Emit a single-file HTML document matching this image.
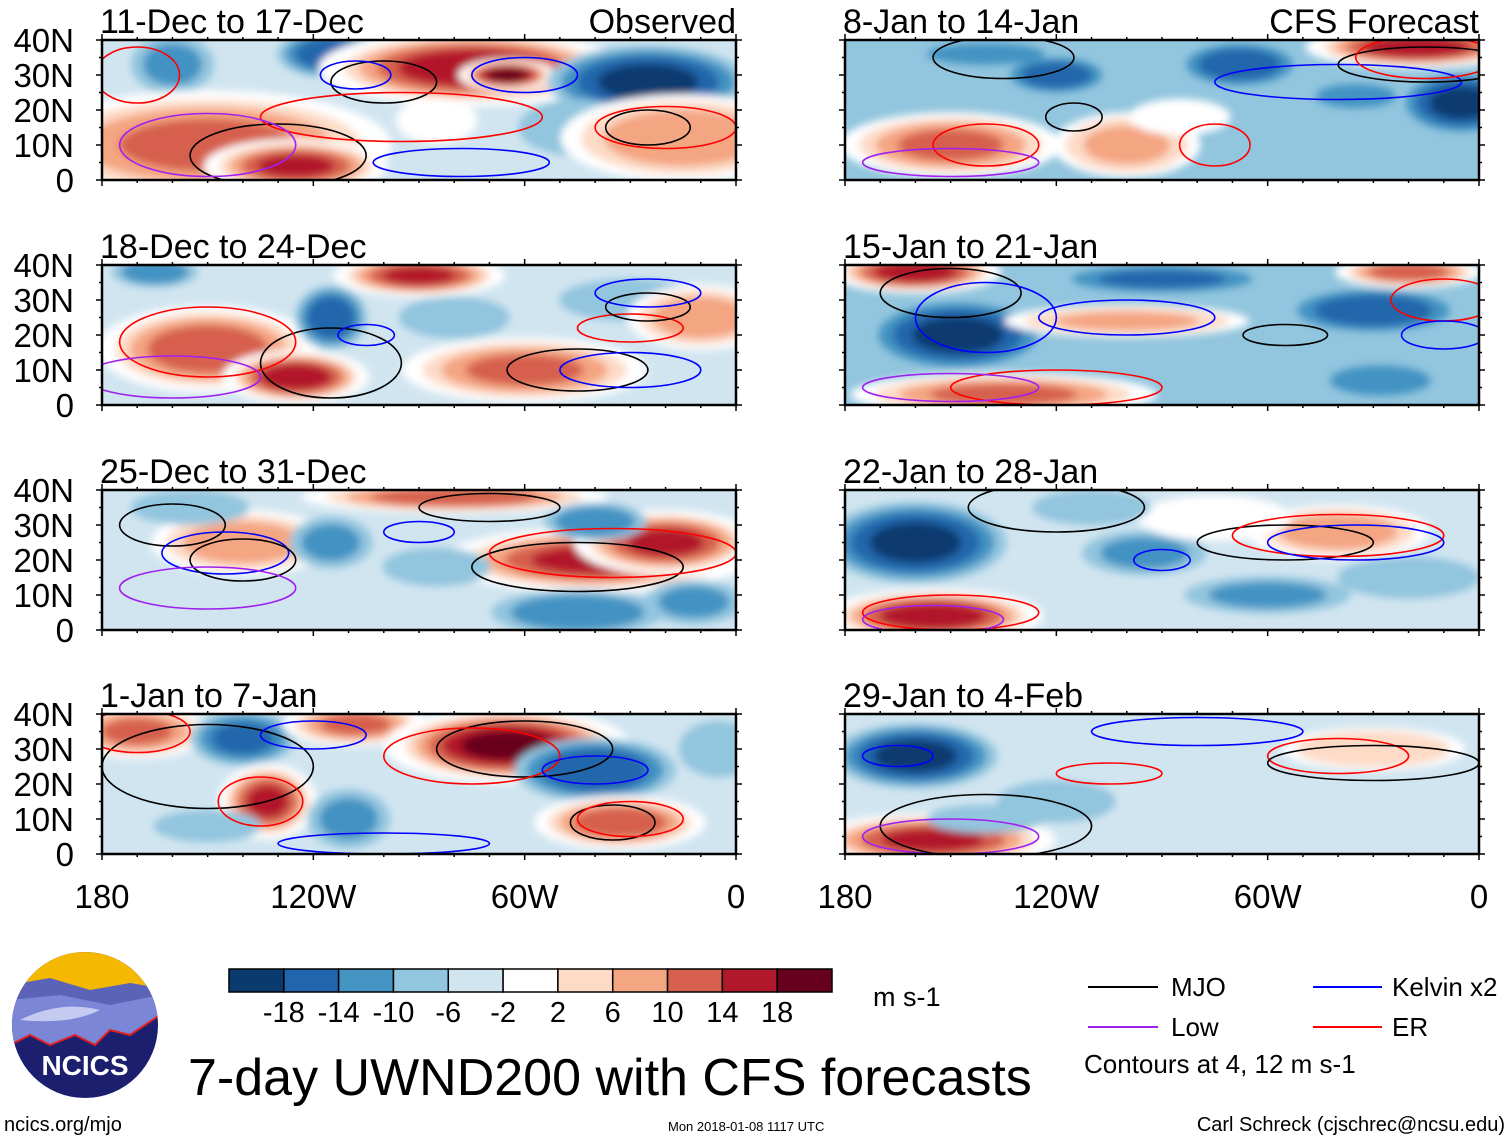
<!DOCTYPE html>
<html><head><meta charset="utf-8">
<style>
html,body{margin:0;padding:0;background:#fff;}
svg{display:block;font-family:"Liberation Sans",sans-serif;}
</style></head>
<body>
<svg id="fig" width="1510" height="1141" viewBox="0 0 1510 1141" xmlns="http://www.w3.org/2000/svg">
<defs>
<filter id="soft" x="-20%" y="-20%" width="140%" height="140%"><feGaussianBlur stdDeviation="4"/></filter>
</defs>
<g id="panels"></g>
<g id="bottom">
  <g>
    <clipPath id="logoClip"><circle cx="85" cy="1025" r="73"/></clipPath>
    <g clip-path="url(#logoClip)">
      <rect x="10" y="950" width="150" height="150" fill="#1b1f6e"/>
      <rect x="10" y="950" width="150" height="45" fill="#f5b800"/>
      <path d="M10 985 L50 978 L90 990 L130 983 L160 988 L160 1010 L10 1020 Z" fill="#5a63b8"/>
      <path d="M10 1000 L60 995 L110 1005 L160 995 L160 1015 L130 1035 L110 1030 L95 1045 L75 1035 L50 1045 L30 1035 L10 1045 Z" fill="#7b86d6"/>
      <path d="M20 1020 Q60 1000 100 1010 Q70 1025 20 1020 Z" fill="#c5cbf0"/>
      <path d="M10 1045 L30 1035 L50 1045 L75 1035 L95 1045 L110 1030 L130 1035 L160 1015" fill="none" stroke="#e02020" stroke-width="2"/>
    </g>
    <text x="85" y="1075" text-anchor="middle" font-size="28" font-weight="bold" fill="#fff">NCICS</text>
  </g>
  <text x="4" y="1131" font-size="20">ncics.org/mjo</text>
  <text x="188" y="1095" font-size="52">7-day UWND200 with CFS forecasts</text>
  <text x="668" y="1131" font-size="13">Mon 2018-01-08 1117 UTC</text>
  <text x="1505" y="1131" font-size="20" text-anchor="end">Carl Schreck (cjschrec@ncsu.edu)</text>
  <g id="cbar"></g>
  <text x="873" y="1006" font-size="27">m s-1</text>
  <g>
    <line x1="1088" y1="987" x2="1158" y2="987" stroke="#000" stroke-width="2"/>
    <text x="1171" y="996" font-size="26">MJO</text>
    <line x1="1313" y1="987" x2="1382" y2="987" stroke="#0000ff" stroke-width="2"/>
    <text x="1392" y="996" font-size="26">Kelvin x2</text>
    <line x1="1088" y1="1027" x2="1158" y2="1027" stroke="#a020f0" stroke-width="2"/>
    <text x="1171" y="1036" font-size="26">Low</text>
    <line x1="1313" y1="1027" x2="1382" y2="1027" stroke="#ff0000" stroke-width="2"/>
    <text x="1392" y="1036" font-size="26">ER</text>
    <text x="1084" y="1073" font-size="26">Contours at 4, 12 m s-1</text>
  </g>
</g>
<script>
// ---- data ----
const levels = [2, 6, 10, 14, 18];
const negColors = ['#d1e5f0','#92c5de','#4393c3','#2166ac','#0b3a6f'];
const posColors = ['#fddbc7','#f4a582','#d6604d','#b2182b','#67001f'];
const cbarLabels = ['-18','-14','-10','-6','-2','2','6','10','14','18'];
const cbarColors = ['#0b3a6f','#2166ac','#4393c3','#92c5de','#d1e5f0','#ffffff','#fddbc7','#f4a582','#d6604d','#b2182b','#67001f'];
const latTicks = ['40N','30N','20N','10N','0'];
const lonTicks = ['180','120W','60W','0'];
const panelTitles = ['11-Dec to 17-Dec','18-Dec to 24-Dec','25-Dec to 31-Dec','1-Jan to 7-Jan','8-Jan to 14-Jan','15-Jan to 21-Jan','22-Jan to 28-Jan','29-Jan to 4-Feb'];
const panelBase = [-4,-3,-3,-3,-7,-7,-4,-3];
// blobs: [lonW, lat, rxDeg, ryDeg, value m/s]
const blobs1 = [[160,33,10,8,-10],[115,36,12,6,-16],[150,10,30,10,10],[125,4,15,5,14],[75,32,25,7,16],[65,30,8,3,19],[25,28,22,9,-18],[45,15,15,8,-8],[15,12,20,8,8],[85,17,8,5,0]];
const blobs2 = [[165,38,10,4,-12],[150,16,18,8,12],[125,8,12,5,16],[90,37,14,4,14],[115,25,8,8,-16],[80,25,14,6,-8],[60,10,20,6,10],[30,30,18,6,-8],[10,25,12,6,8],[170,5,12,4,-4]];
const blobs3 = [[80,38,25,3,12],[40,20,25,6,14],[20,25,15,6,14],[140,25,15,6,8],[115,25,10,7,-10],[40,31,12,5,-12],[45,5,20,6,-12],[85,18,15,6,-6],[155,35,15,5,-8],[12,8,12,6,-10]];
const blobs4 = [[170,35,12,5,10],[140,33,12,7,-14],[133,15,8,7,14],[108,37,12,4,10],[110,10,10,8,-10],[65,31,20,7,18],[40,24,18,8,-16],[33,9,14,5,12],[5,30,10,8,-8],[150,8,15,5,-6]];
const blobs5 = [[120,30,12,5,-16],[68,33,14,6,-16],[5,22,14,8,-18],[18,38,18,4,16],[150,10,18,6,10],[100,10,12,6,6],[85,18,10,4,0],[60,5,20,5,-8],[140,36,20,4,-10],[35,24,12,4,-12]];
const blobs6 = [[148,20,20,9,-18],[30,27,20,6,-16],[160,38,14,4,16],[20,38,12,3,12],[100,24,20,3,6],[135,3,25,4,10],[28,7,15,5,-12],[70,10,20,6,-8],[90,36,25,4,-14]];
const blobs7 = [[160,25,20,10,-18],[155,4,18,5,16],[40,28,15,5,8],[95,22,15,6,-10],[60,10,20,5,-10],[75,32,15,5,0],[20,15,18,6,-8],[110,35,15,5,-8]];
const blobs8 = [[160,28,18,8,-18],[155,4,20,5,14],[120,15,15,6,-8],[140,10,15,4,-8],[50,15,30,10,-4],[30,30,15,4,2]];
const allBlobs = [blobs1,blobs2,blobs3,blobs4,blobs5,blobs6,blobs7,blobs8];
// contours: [lonW, lat, rxDeg, ryDeg, type]
const contours1 = [[100,28,15,6,'mjo'],[130,7,25,9,'mjo'],[170,30,12,8,'er'],[95,18,40,7,'er'],[150,10,25,9,'low'],[108,30,10,4,'kel'],[60,30,15,5,'kel'],[78,5,25,4,'kel'],[20,15,20,6,'er'],[25,15,12,5,'mjo']];
const contours2 = [[115,12,20,10,'mjo'],[45,10,20,6,'mjo'],[150,18,25,10,'er'],[160,8,25,6,'low'],[30,22,15,4,'er'],[25,28,12,4,'mjo'],[25,32,15,4,'kel'],[30,10,20,5,'kel'],[105,20,8,3,'kel']];
const contours3 = [[160,30,15,6,'mjo'],[145,22,18,6,'kel'],[140,20,15,6,'mjo'],[45,18,30,7,'mjo'],[35,22,35,7,'er'],[150,12,25,6,'low'],[70,35,20,4,'mjo'],[90,28,10,3,'kel']];
const contours4 = [[150,25,30,12,'mjo'],[135,15,12,7,'er'],[170,35,15,6,'er'],[60,30,25,8,'mjo'],[75,28,25,8,'er'],[35,9,12,5,'mjo'],[30,10,15,5,'er'],[100,3,30,3,'kel'],[40,24,15,4,'kel'],[120,34,15,4,'kel']];
const contours5 = [[135,35,20,6,'mjo'],[115,18,8,4,'mjo'],[140,10,15,6,'er'],[75,10,10,6,'er'],[40,28,35,5,'kel'],[15,33,25,5,'mjo'],[15,35,20,6,'er'],[150,5,25,4,'low']];
const contours6 = [[150,32,20,7,'mjo'],[100,25,25,5,'kel'],[55,20,12,3,'mjo'],[120,5,30,5,'er'],[150,5,25,4,'low'],[10,30,15,6,'er'],[10,20,12,4,'kel'],[140,25,20,10,'kel']];
const contours7 = [[120,35,25,7,'mjo'],[55,25,25,5,'mjo'],[40,27,30,6,'er'],[35,25,25,5,'kel'],[90,20,8,3,'kel'],[150,5,25,5,'er'],[155,3,20,4,'low']];
const contours8 = [[140,8,30,9,'mjo'],[150,5,25,5,'low'],[80,35,30,4,'kel'],[105,23,15,3,'er'],[40,28,20,5,'er'],[30,26,30,5,'mjo'],[165,28,10,3,'kel']];
const allContours = [contours1,contours2,contours3,contours4,contours5,contours6,contours7,contours8];
const contourColors = {mjo:'#000000', low:'#a020f0', kel:'#0000ff', er:'#ff0000'};

// ---- layout ----
const NS = 'http://www.w3.org/2000/svg';
const panelX = [102, 845];
const panelY = [40, 265, 490, 714];
const PW = 634, PH = 140;
const SX = 1.45, SY = 1.3;
function mk(tag, attrs, parent){ const e=document.createElementNS(NS,tag); for(const k in attrs) e.setAttribute(k,attrs[k]); parent.appendChild(e); return e; }
function colorFor(v){ if(v>=2){let i=Math.min(4,Math.floor((v-2)/4));return posColors[i];} if(v<=-2){let i=Math.min(4,Math.floor((-v-2)/4));return negColors[i];} return '#ffffff'; }

const root = document.getElementById('panels');
for(let p=0;p<8;p++){
  const col = p<4?0:1, row = p%4;
  const x0 = panelX[col], y0 = panelY[row];
  const xs = lonW => x0 + (180-lonW)/180*PW;
  const ys = lat => y0 + (40-lat)/40*PH;
  const pxPerDegX = PW/180*SX, pxPerDegY = PH/40*SY;
  const baseV = panelBase[p];
  const g = mk('g',{},root);
  
  
  const cp = mk('clipPath',{id:'cp'+p},g);
  mk('rect',{x:x0,y:y0,width:PW,height:PH},cp);
  const fill = mk('g',{'clip-path':'url(#cp'+p+')'},g);
  const base = mk('rect',{x:x0,y:y0,width:PW,height:PH,fill:colorFor(baseV)},fill);
  
  
  const blurG = mk('g',{filter:'url(#soft)'},fill);
  allBlobs[p].forEach(b=>{
    const [lon,lat,rx,ry,v] = b;
    const av = Math.abs(v);
    const sameSign = Math.sign(v)===Math.sign(baseV);
    const bg = mk('g',{},blurG);
    
    
    if(av<2){
      mk('ellipse',{cx:xs(lon),cy:ys(lat),rx:rx*pxPerDegX,ry:ry*pxPerDegY,fill:'#ffffff'},bg);
      return;
    }
    if(!sameSign){
      mk('ellipse',{cx:xs(lon),cy:ys(lat),rx:rx*pxPerDegX*1.2,ry:ry*pxPerDegY*1.2,fill:'#ffffff'},bg);
    }
    levels.forEach(L=>{
      if(L>av) return;
      if(sameSign && L<=Math.abs(baseV)) return;
      const s = Math.sqrt(1 - (L-2)/(av+2));
      mk('ellipse',{cx:xs(lon),cy:ys(lat),rx:rx*pxPerDegX*s,ry:ry*pxPerDegY*s,fill:colorFor(Math.sign(v)*L)},bg);
    });
  });
  allContours[p].forEach(c=>{
    const [lon,lat,rx,ry,t] = c;
    const e = mk('ellipse',{cx:xs(lon),cy:ys(lat),rx:rx*PW/180,ry:ry*PH/40,fill:'none',stroke:contourColors[t],'stroke-width':1.6},fill);
    
    
  });
  const fr = mk('rect',{x:x0,y:y0,width:PW,height:PH,fill:'none',stroke:'#000','stroke-width':2.5},g);
  
  
  for(let lon=180;lon>=0;lon-=10){
    const major = lon%60===0, len = major?6:3;
    mk('line',{x1:xs(lon),y1:y0+PH,x2:xs(lon),y2:y0+PH+len,stroke:'#000','stroke-width':1.5},g);
    mk('line',{x1:xs(lon),y1:y0,x2:xs(lon),y2:y0-len,stroke:'#000','stroke-width':1.5},g);
  }
  for(let lat=0;lat<=40;lat+=5){
    const len = lat%10===0?6:3;
    mk('line',{x1:x0,y1:ys(lat),x2:x0-len,y2:ys(lat),stroke:'#000','stroke-width':1.5},g);
    mk('line',{x1:x0+PW,y1:ys(lat),x2:x0+PW+len,y2:ys(lat),stroke:'#000','stroke-width':1.5},g);
  }
  const t = mk('text',{x:x0-2,y:y0-7,'font-size':34},g);
  t.textContent = panelTitles[p];
  
  
  if(p===0||p===4){
    const r = mk('text',{x:x0+PW,y:y0-7,'font-size':34,'text-anchor':'end'},g);
    r.textContent = p===0?'Observed':'CFS Forecast';
    
    
  }
  if(col===0){
    latTicks.forEach((lbl,i)=>{
      const lt = mk('text',{x:74,y:ys(40-i*10)+12,'font-size':33,'text-anchor':'end'},g);
      lt.textContent = lbl;
      
      
    });
  }
  if(row===3){
    lonTicks.forEach((lbl,i)=>{
      const xt = mk('text',{x:xs(180-i*60),y:908,'font-size':33,'text-anchor':'middle'},g);
      xt.textContent = lbl;
      
      
    });
  }
}
const cb = document.getElementById('cbar');
const cbX0 = 229, cbW = 603, cbY = 969, cbH = 23, boxW = cbW/cbarColors.length;
cbarColors.forEach((c,i)=>{
  const r = mk('rect',{x:cbX0+i*boxW,y:cbY,width:boxW,height:cbH,fill:c,stroke:'#000','stroke-width':1.5},cb);
  
  
});
cbarLabels.forEach((l,i)=>{
  const t = mk('text',{x:cbX0+(i+1)*boxW,y:1022,'font-size':29,'text-anchor':'middle'},cb);
  t.textContent = l;
  
  
});
</script>
</svg>
</body></html>
